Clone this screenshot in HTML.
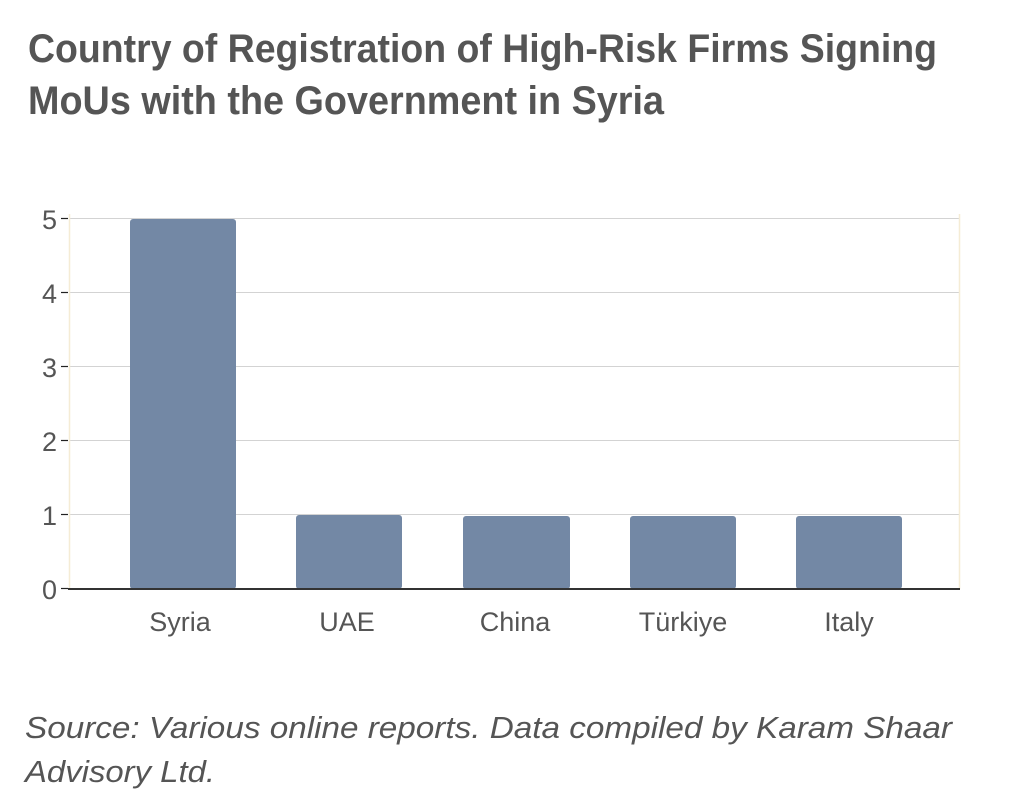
<!DOCTYPE html>
<html><head><meta charset="utf-8"><style>html,body{margin:0;padding:0;background:#fff;}svg{display:block}</style></head>
<body>
<svg width="1011" height="801" xmlns="http://www.w3.org/2000/svg" font-family="'Liberation Sans', sans-serif">
<rect width="1011" height="801" fill="#fff"/>
<text x="28" y="62" font-size="40" font-weight="bold" fill="#555" textLength="909" lengthAdjust="spacingAndGlyphs">Country of Registration of High-Risk Firms Signing</text>
<text x="28" y="114" font-size="40" font-weight="bold" fill="#555" textLength="636" lengthAdjust="spacingAndGlyphs">MoUs with the Government in Syria</text>
<g stroke="#d3d3d3" stroke-width="1">
<line x1="69" x2="960" y1="218.5" y2="218.5"/>
<line x1="69" x2="960" y1="292.5" y2="292.5"/>
<line x1="69" x2="960" y1="366.5" y2="366.5"/>
<line x1="69" x2="960" y1="440.5" y2="440.5"/>
<line x1="69" x2="960" y1="514.5" y2="514.5"/>
</g>
<line x1="69.5" x2="69.5" y1="214" y2="589" stroke="#f5ecd5" stroke-width="1.5"/>
<line x1="959.5" x2="959.5" y1="214" y2="589" stroke="#f5ecd5" stroke-width="1.5"/>
<g stroke="#222" stroke-width="1.2">
<line x1="61" x2="68" y1="218.5" y2="218.5"/>
<line x1="61" x2="68" y1="292.5" y2="292.5"/>
<line x1="61" x2="68" y1="366.5" y2="366.5"/>
<line x1="61" x2="68" y1="440.5" y2="440.5"/>
<line x1="61" x2="68" y1="514.5" y2="514.5"/>
<line x1="61" x2="68" y1="588.5" y2="588.5"/>
</g>
<g fill="#7388a5">
<rect x="130" y="219" width="106" height="370" rx="3"/>
<rect x="296" y="515" width="106" height="74" rx="3"/>
<rect x="463" y="516" width="107" height="73" rx="3"/>
<rect x="630" y="516" width="106" height="73" rx="3"/>
<rect x="796" y="516" width="106" height="73" rx="3"/>
</g>
<line x1="68" x2="960" y1="589" y2="589" stroke="#333" stroke-width="2"/>
<g font-size="27" fill="#555" text-anchor="end">
<text x="57" y="229">5</text>
<text x="57" y="303">4</text>
<text x="57" y="377">3</text>
<text x="57" y="451">2</text>
<text x="57" y="525">1</text>
<text x="57" y="599">0</text>
</g>
<g font-size="27" fill="#555" text-anchor="middle">
<text x="180" y="631">Syria</text>
<text x="347" y="631">UAE</text>
<text x="515" y="631">China</text>
<text x="683" y="631">Türkiye</text>
<text x="849" y="631">Italy</text>
</g>
<text x="25" y="738" font-size="31" font-style="italic" fill="#555" textLength="927" lengthAdjust="spacingAndGlyphs">Source: Various online reports. Data compiled by Karam Shaar</text>
<text x="25" y="782" font-size="31" font-style="italic" fill="#555" textLength="190" lengthAdjust="spacingAndGlyphs">Advisory Ltd.</text>
</svg>
</body></html>
